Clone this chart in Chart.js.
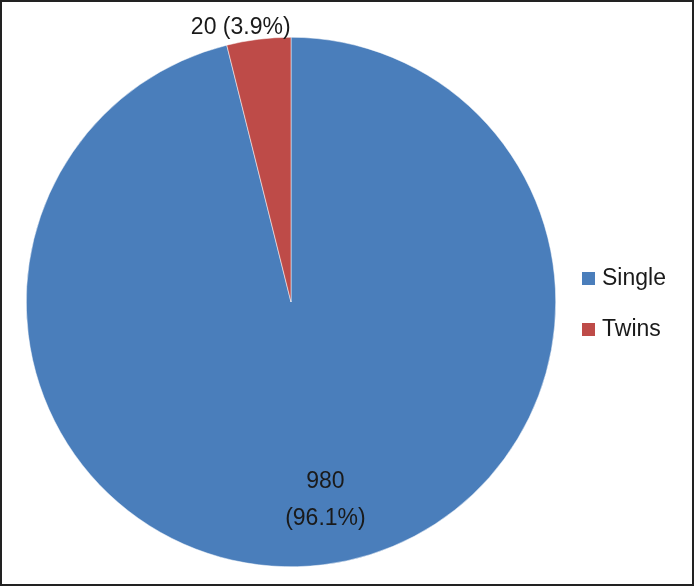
<!DOCTYPE html>
<html>
<head>
<meta charset="utf-8">
<script src="https://cdn.jsdelivr.net/npm/chart.js@4.4.0/dist/chart.umd.min.js"></script>
<style>
  html, body { margin: 0; padding: 0; background: #fff; }
  #wrap { width: 694px; height: 586px; }
</style>
</head>
<body>
<div id="wrap"><canvas id="c" width="694" height="586"></canvas></div>
<script>
// chart data
const categories = ['Single', 'Twins'];
const counts = [980, 20];
const percents = [96.1, 3.9];
const colors = ['#4a7ebb', '#be4b48'];

const font = '23px "Liberation Sans", Arial, sans-serif';
const textColor = '#1a1a1a';

// white background + frame
const framePlugin = {
  id: 'frame',
  beforeDraw(chart) {
    const { ctx, width, height } = chart;
    ctx.save();
    ctx.fillStyle = '#fff';
    ctx.fillRect(0, 0, width, height);
    ctx.restore();
  },
  afterDraw(chart) {
    const { ctx, width, height } = chart;
    ctx.save();
    ctx.strokeStyle = '#222';
    ctx.lineWidth = 2;
    ctx.strokeRect(1, 1, width - 2, height - 2);
    ctx.restore();
  }
};

// slice labels like the original (value + percent)
const labelPlugin = {
  id: 'sliceLabels',
  afterDatasetsDraw(chart) {
    const { ctx } = chart;
    const arcs = chart.getDatasetMeta(0).data;
    const cx = arcs[0].x, cy = arcs[0].y, r = arcs[0].outerRadius;
    ctx.save();
    ctx.font = font;
    ctx.fillStyle = textColor;
    ctx.textAlign = 'center';
    ctx.textBaseline = 'middle';
    // single: inside, two lines
    ctx.fillText(String(counts[0]), cx + 0.13 * r, cy + 0.68 * r);
    ctx.fillText('(' + percents[0].toFixed(1) + '%)', cx + 0.13 * r, cy + 0.82 * r);
    // twins: outside, above
    ctx.fillText(counts[1] + ' (' + percents[1].toFixed(1) + '%)', cx - 0.19 * r, cy - 1.035 * r);
    ctx.restore();
  }
};

// legend on the right
const legendPlugin = {
  id: 'sideLegend',
  afterDraw(chart) {
    const { ctx } = chart;
    ctx.save();
    ctx.font = font;
    ctx.textBaseline = 'middle';
    categories.forEach((name, i) => {
      const y = 278 + i * 51;
      ctx.fillStyle = colors[i];
      ctx.fillRect(582, y - 6, 13, 13);
      ctx.fillStyle = textColor;
      ctx.fillText(name, 602, y + 1);
    });
    ctx.restore();
  }
};

new Chart(document.getElementById('c'), {
  type: 'pie',
  data: {
    labels: categories,
    datasets: [{
      data: percents,
      backgroundColor: colors,
      borderColor: '#ffffff',
      borderWidth: 0.5
    }]
  },
  options: {
    responsive: false,
    animation: false,
    layout: { padding: { left: 26, top: 37, right: 138, bottom: 19 } },
    plugins: {
      legend: { display: false },
      tooltip: { enabled: false }
    }
  },
  plugins: [framePlugin, labelPlugin, legendPlugin]
});
</script>
</body>
</html>
